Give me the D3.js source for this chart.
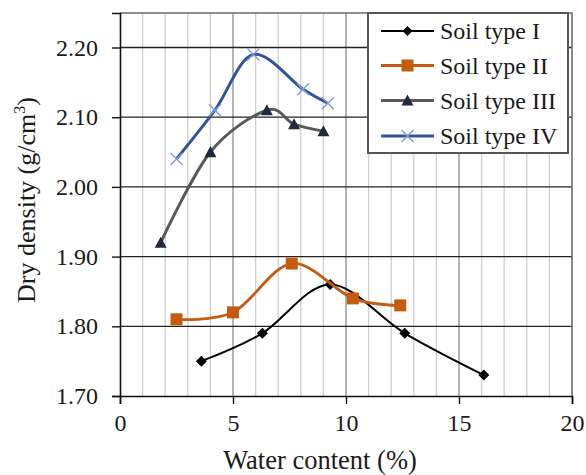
<!DOCTYPE html>
<html>
<head>
<meta charset="utf-8">
<script src="https://cdn.jsdelivr.net/npm/d3@7"></script>
<style>
  html, body { margin: 0; padding: 0; background: #fff; }
  svg { display: block; }
</style>
</head>
<body>
<script>
// Compaction data: water content (%) vs dry density (g/cm3)
const seriesNames = ["Soil type I", "Soil type II", "Soil type III", "Soil type IV"];
const soilI_x   = [3.6, 6.3, 9.3, 12.6, 16.1];
const soilI_y   = [1.75, 1.79, 1.86, 1.79, 1.73];
const soilII_x  = [2.5, 5.0, 7.6, 10.3, 12.4];
const soilII_y  = [1.81, 1.82, 1.89, 1.84, 1.83];
const soilIII_x = [1.8, 4.0, 6.5, 7.7, 9.0];
const soilIII_y = [1.92, 2.05, 2.11, 2.09, 2.08];
const soilIV_x  = [2.5, 4.2, 5.9, 8.1, 9.2];
const soilIV_y  = [2.04, 2.11, 2.19, 2.14, 2.12];
const xTicks = [0, 5, 10, 15, 20];
const yTicks = [1.70, 1.80, 1.90, 2.00, 2.10, 2.20];

const FONT = "'Liberation Serif', Tinos, 'Times New Roman', 'DejaVu Serif', 'Noto Serif', serif";

const W = 586, H = 475;
const m = { left: 120, top: 13, right: 14, bottom: 79 };
const iw = W - m.left - m.right, ih = H - m.top - m.bottom;

const svg = d3.select("body").append("svg").attr("width", W).attr("height", H)
  .style("font-family", FONT);
const g = svg.append("g").attr("transform", `translate(${m.left},${m.top})`);

const x = d3.scaleLinear().domain([0, 20]).range([0, iw]);
const y = d3.scaleLinear().domain([1.70, 2.2495]).range([ih, 0]);

// vertical grid (every 1 %)
g.append("g").selectAll("line").data(d3.range(1, 20)).join("line")
  .attr("x1", d => x(d)).attr("x2", d => x(d))
  .attr("y1", 0).attr("y2", ih)
  .attr("stroke", d => d % 5 === 0 ? "#8c8c8c" : "#cfcfcf")
  .attr("stroke-width", 1.3);

// horizontal major grid
g.append("g").selectAll("line").data(yTicks.slice(1)).join("line")
  .attr("x1", 0).attr("x2", iw)
  .attr("y1", d => y(d)).attr("y2", d => y(d))
  .attr("stroke", "#222").attr("stroke-width", 1.3);

// plot frame (top and right)
g.append("path")
  .attr("d", `M0,0H${iw}V${ih}`)
  .attr("fill", "none").attr("stroke", "#6b6b6b").attr("stroke-width", 1.6);

// axes
const xAxis = g.append("g").attr("transform", `translate(0,${ih})`)
  .call(d3.axisBottom(x).tickValues(xTicks).tickSize(8).tickPadding(10).tickFormat(d3.format("d")));
const yAxis = g.append("g")
  .call(d3.axisLeft(y).tickValues(yTicks).tickSize(8).tickPadding(14).tickFormat(d3.format(".2f")));
[xAxis, yAxis].forEach(a => {
  a.attr("font-family", null);
  a.select(".domain").attr("stroke", "#111").attr("stroke-width", 1.6);
  a.selectAll(".tick line").attr("stroke", "#111").attr("stroke-width", 1.4);
  a.selectAll(".tick text").attr("font-size", 24).attr("fill", "#1a1a1a");
});

// axis titles
svg.append("text")
  .attr("x", 320).attr("y", 469)
  .attr("text-anchor", "middle").attr("font-size", 26.5).attr("fill", "#1a1a1a")
  .text("Water content (%)");
const yt = svg.append("text")
  .attr("transform", `translate(35,200) rotate(-90)`)
  .attr("text-anchor", "middle").attr("font-size", 26).attr("fill", "#1a1a1a");
yt.append("tspan").text("Dry density (g/cm");
yt.append("tspan").attr("dy", -10).attr("font-size", 16).text("3");
yt.append("tspan").attr("dy", 10).text(")");

// series styles
const series = [
  { name: seriesNames[0], xs: soilI_x,   ys: soilI_y,   line: "#000000", lw: 2,   marker: "diamond",  fill: "#000000", size: 11 },
  { name: seriesNames[1], xs: soilII_x,  ys: soilII_y,  line: "#c55a11", lw: 2.8, marker: "square",   fill: "#c55a11", size: 12 },
  { name: seriesNames[2], xs: soilIII_x, ys: soilIII_y, line: "#595959", lw: 3,   marker: "triangle", fill: "#1f2a3c", size: 12 },
  { name: seriesNames[3], xs: soilIV_x,  ys: soilIV_y,  line: "#2f5597", lw: 3,   marker: "cross",    fill: "#7f9fd6", size: 12 }
];

function drawMarker(sel, s, cx, cy, sz) {
  const h = sz / 2;
  if (s.marker === "diamond") {
    sel.append("path").attr("d", `M${cx},${cy - h}L${cx + h},${cy}L${cx},${cy + h}L${cx - h},${cy}Z`).attr("fill", s.fill);
  } else if (s.marker === "square") {
    sel.append("rect").attr("x", cx - h).attr("y", cy - h).attr("width", sz).attr("height", sz).attr("fill", s.fill);
  } else if (s.marker === "triangle") {
    sel.append("path").attr("d", `M${cx},${cy - h}L${cx + h},${cy + h * 0.85}L${cx - h},${cy + h * 0.85}Z`).attr("fill", s.fill);
  } else {
    sel.append("path").attr("d", `M${cx - h},${cy - h}L${cx + h},${cy + h}M${cx - h},${cy + h}L${cx + h},${cy - h}`)
      .attr("stroke", s.fill).attr("stroke-width", 1.4).attr("fill", "none");
  }
}

const line = d3.line().x(d => x(d[0])).y(d => y(d[1])).curve(d3.curveCardinal.tension(0));

series.forEach(s => {
  const pts = s.xs.map((v, i) => [v, s.ys[i]]);
  const grp = g.append("g");
  grp.append("path").datum(pts).attr("d", line)
    .attr("fill", "none").attr("stroke", s.line).attr("stroke-width", s.lw).attr("stroke-linejoin", "round");
  pts.forEach(p => drawMarker(grp, s, x(p[0]), y(p[1]), s.size));
});

// legend
const lg = svg.append("g");
lg.append("rect").attr("x", 368).attr("y", 13).attr("width", 200).attr("height", 140)
  .attr("fill", "#fff").attr("stroke", "#555").attr("stroke-width", 2);
const rowY = [31, 65.5, 100.5, 136];
series.forEach((s, i) => {
  const cy = rowY[i];
  lg.append("line").attr("x1", 381).attr("x2", 434).attr("y1", cy).attr("y2", cy)
    .attr("stroke", s.line).attr("stroke-width", s.lw);
  drawMarker(lg, s, 407.5, cy, s.marker === "diamond" ? 10 : s.size);
  lg.append("text").attr("x", 440).attr("y", cy).attr("dy", "0.35em")
    .attr("font-size", 24).attr("fill", "#1a1a1a").text(s.name);
});
</script>
</body>
</html>
